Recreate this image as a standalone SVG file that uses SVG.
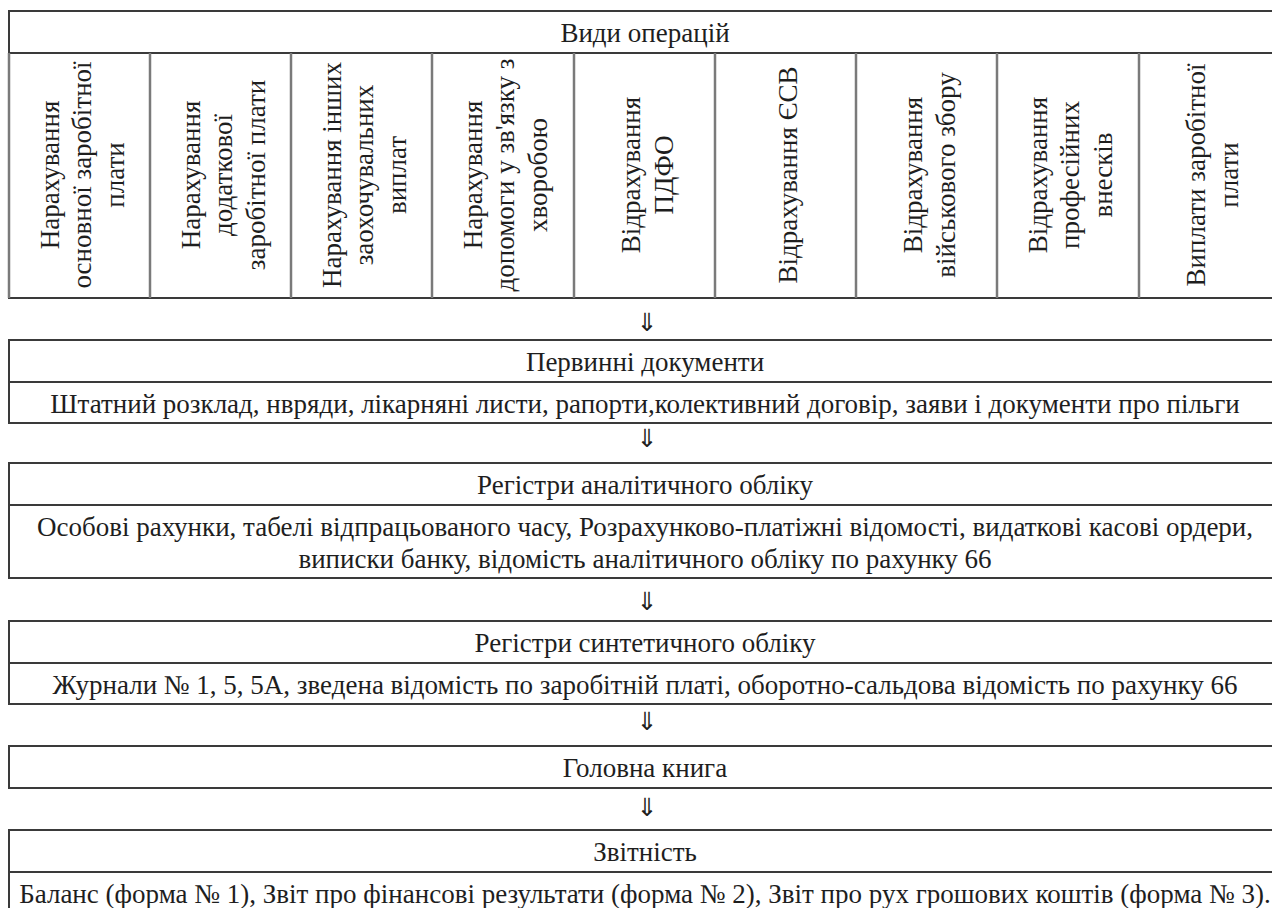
<svg xmlns="http://www.w3.org/2000/svg" width="1272" height="908" viewBox="0 0 1272 908">
<style>
  .box { fill: #ffffff; stroke: #3a3a3a; stroke-width: 2; }
  .sep { stroke: #3a3a3a; stroke-width: 2; }
  .col { stroke: #7a7a7a; stroke-width: 2.5; }
  .t { font-size: 27px; fill: #1e1e1e; text-anchor: middle; }
  .arr { font-size: 25px; fill: #1e1e1e; text-anchor: middle; }
</style>
<rect x="0" y="0" width="1272" height="908" fill="#ffffff"/>

<g font-family="'Liberation Serif', 'Times New Roman', 'DejaVu Serif', serif">
<g id="vidy-operatsii">
  <rect class="box" x="9" y="11" width="1273" height="287"/>
  <line class="sep" x1="9" y1="53" x2="1282" y2="53"/>
  <text class="t" x="645" y="42">Види операцій</text>
  <line class="col" x1="150" y1="53" x2="150" y2="298"/>
  <line class="col" x1="291" y1="53" x2="291" y2="298"/>
  <line class="col" x1="432" y1="53" x2="432" y2="298"/>
  <line class="col" x1="574" y1="53" x2="574" y2="298"/>
  <line class="col" x1="715" y1="53" x2="715" y2="298"/>
  <line class="col" x1="856" y1="53" x2="856" y2="298"/>
  <line class="col" x1="997" y1="53" x2="997" y2="298"/>
  <line class="col" x1="1139" y1="53" x2="1139" y2="298"/>
  <line class="col" x1="9" y1="53" x2="9" y2="298"/>
</g>

<g id="op1" transform="translate(79.5,175) rotate(-90)">
  <text class="t" x="0" y="-21">Нарахування</text>
  <text class="t" x="0" y="11">основної заробітної</text>
  <text class="t" x="0" y="44">плати</text>
</g>
<g id="op2" transform="translate(220.5,175) rotate(-90)">
  <text class="t" x="0" y="-21">Нарахування</text>
  <text class="t" x="0" y="11">додаткової</text>
  <text class="t" x="0" y="44">заробітної плати</text>
</g>
<g id="op3" transform="translate(361.5,175) rotate(-90)">
  <text class="t" x="0" y="-21">Нарахування інших</text>
  <text class="t" x="0" y="11">заохочувальних</text>
  <text class="t" x="0" y="44">виплат</text>
</g>
<g id="op4" transform="translate(503,175) rotate(-90)">
  <text class="t" x="0" y="-21">Нарахування</text>
  <text class="t" x="0" y="11">допомоги у зв'язку з</text>
  <text class="t" x="0" y="44">хворобою</text>
</g>
<g id="op5" transform="translate(644.5,175) rotate(-90)">
  <text class="t" x="0" y="-5">Відрахування</text>
  <text class="t" x="0" y="28">ПДФО</text>
</g>
<g id="op6" transform="translate(786,175) rotate(-90)">
  <text class="t" x="0" y="11">Відрахування ЄСВ</text>
</g>
<g id="op7" transform="translate(927,175) rotate(-90)">
  <text class="t" x="0" y="-5">Відрахування</text>
  <text class="t" x="0" y="28">військового збору</text>
</g>
<g id="op8" transform="translate(1068,175) rotate(-90)">
  <text class="t" x="0" y="-21">Відрахування</text>
  <text class="t" x="0" y="11">професійних</text>
  <text class="t" x="0" y="44">внесків</text>
</g>
<g id="op9" transform="translate(1209.5,175) rotate(-90)">
  <text class="t" x="0" y="-5">Виплати заробітної</text>
  <text class="t" x="0" y="28">плати</text>
</g>

<g id="pervynni-dokumenty">
  <rect class="box" x="9" y="340" width="1273" height="83"/>
  <line class="sep" x1="9" y1="382" x2="1282" y2="382"/>
  <text class="t" x="645" y="371">Первинні документи</text>
  <text class="t" x="645" y="413">Штатний розклад, нвряди, лікарняні листи, рапорти,колективний договір, заяви і документи про пільги</text>
</g>

<g id="analitychnyi-oblik">
  <rect class="box" x="9" y="463" width="1273" height="115"/>
  <line class="sep" x1="9" y1="505" x2="1282" y2="505"/>
  <text class="t" x="645" y="494">Регістри аналітичного обліку</text>
  <text class="t" x="645" y="536">Особові рахунки, табелі відпрацьованого часу, Розрахунково-платіжні відомості, видаткові касові ордери,</text>
  <text class="t" x="645" y="568">виписки банку, відомість аналітичного обліку по рахунку 66</text>
</g>

<g id="syntetychnyi-oblik">
  <rect class="box" x="9" y="621" width="1273" height="83"/>
  <line class="sep" x1="9" y1="663" x2="1282" y2="663"/>
  <text class="t" x="645" y="652">Регістри синтетичного обліку</text>
  <text class="t" x="645" y="694">Журнали № 1, 5, 5А, зведена відомість по заробітній платі, оборотно-сальдова відомість по рахунку 66</text>
</g>

<g id="holovna-knyha">
  <rect class="box" x="9" y="746" width="1273" height="42"/>
  <text class="t" x="645" y="777">Головна книга</text>
</g>

<g id="zvitnist">
  <rect class="box" x="9" y="830" width="1273" height="90"/>
  <line class="sep" x1="9" y1="872" x2="1282" y2="872"/>
  <text class="t" x="645" y="861">Звітність</text>
  <text class="t" x="645" y="903">Баланс (форма № 1), Звіт про фінансові результати (форма № 2), Звіт про рух грошових коштів (форма № 3).</text>
</g>
</g>

<g id="connectors" font-family="'DejaVu Sans', sans-serif">
  <text class="arr" x="647" y="331">⇓</text>
  <text class="arr" x="647" y="447">⇓</text>
  <text class="arr" x="647" y="610">⇓</text>
  <text class="arr" x="647" y="730">⇓</text>
  <text class="arr" x="647" y="816">⇓</text>
</g>
</svg>
